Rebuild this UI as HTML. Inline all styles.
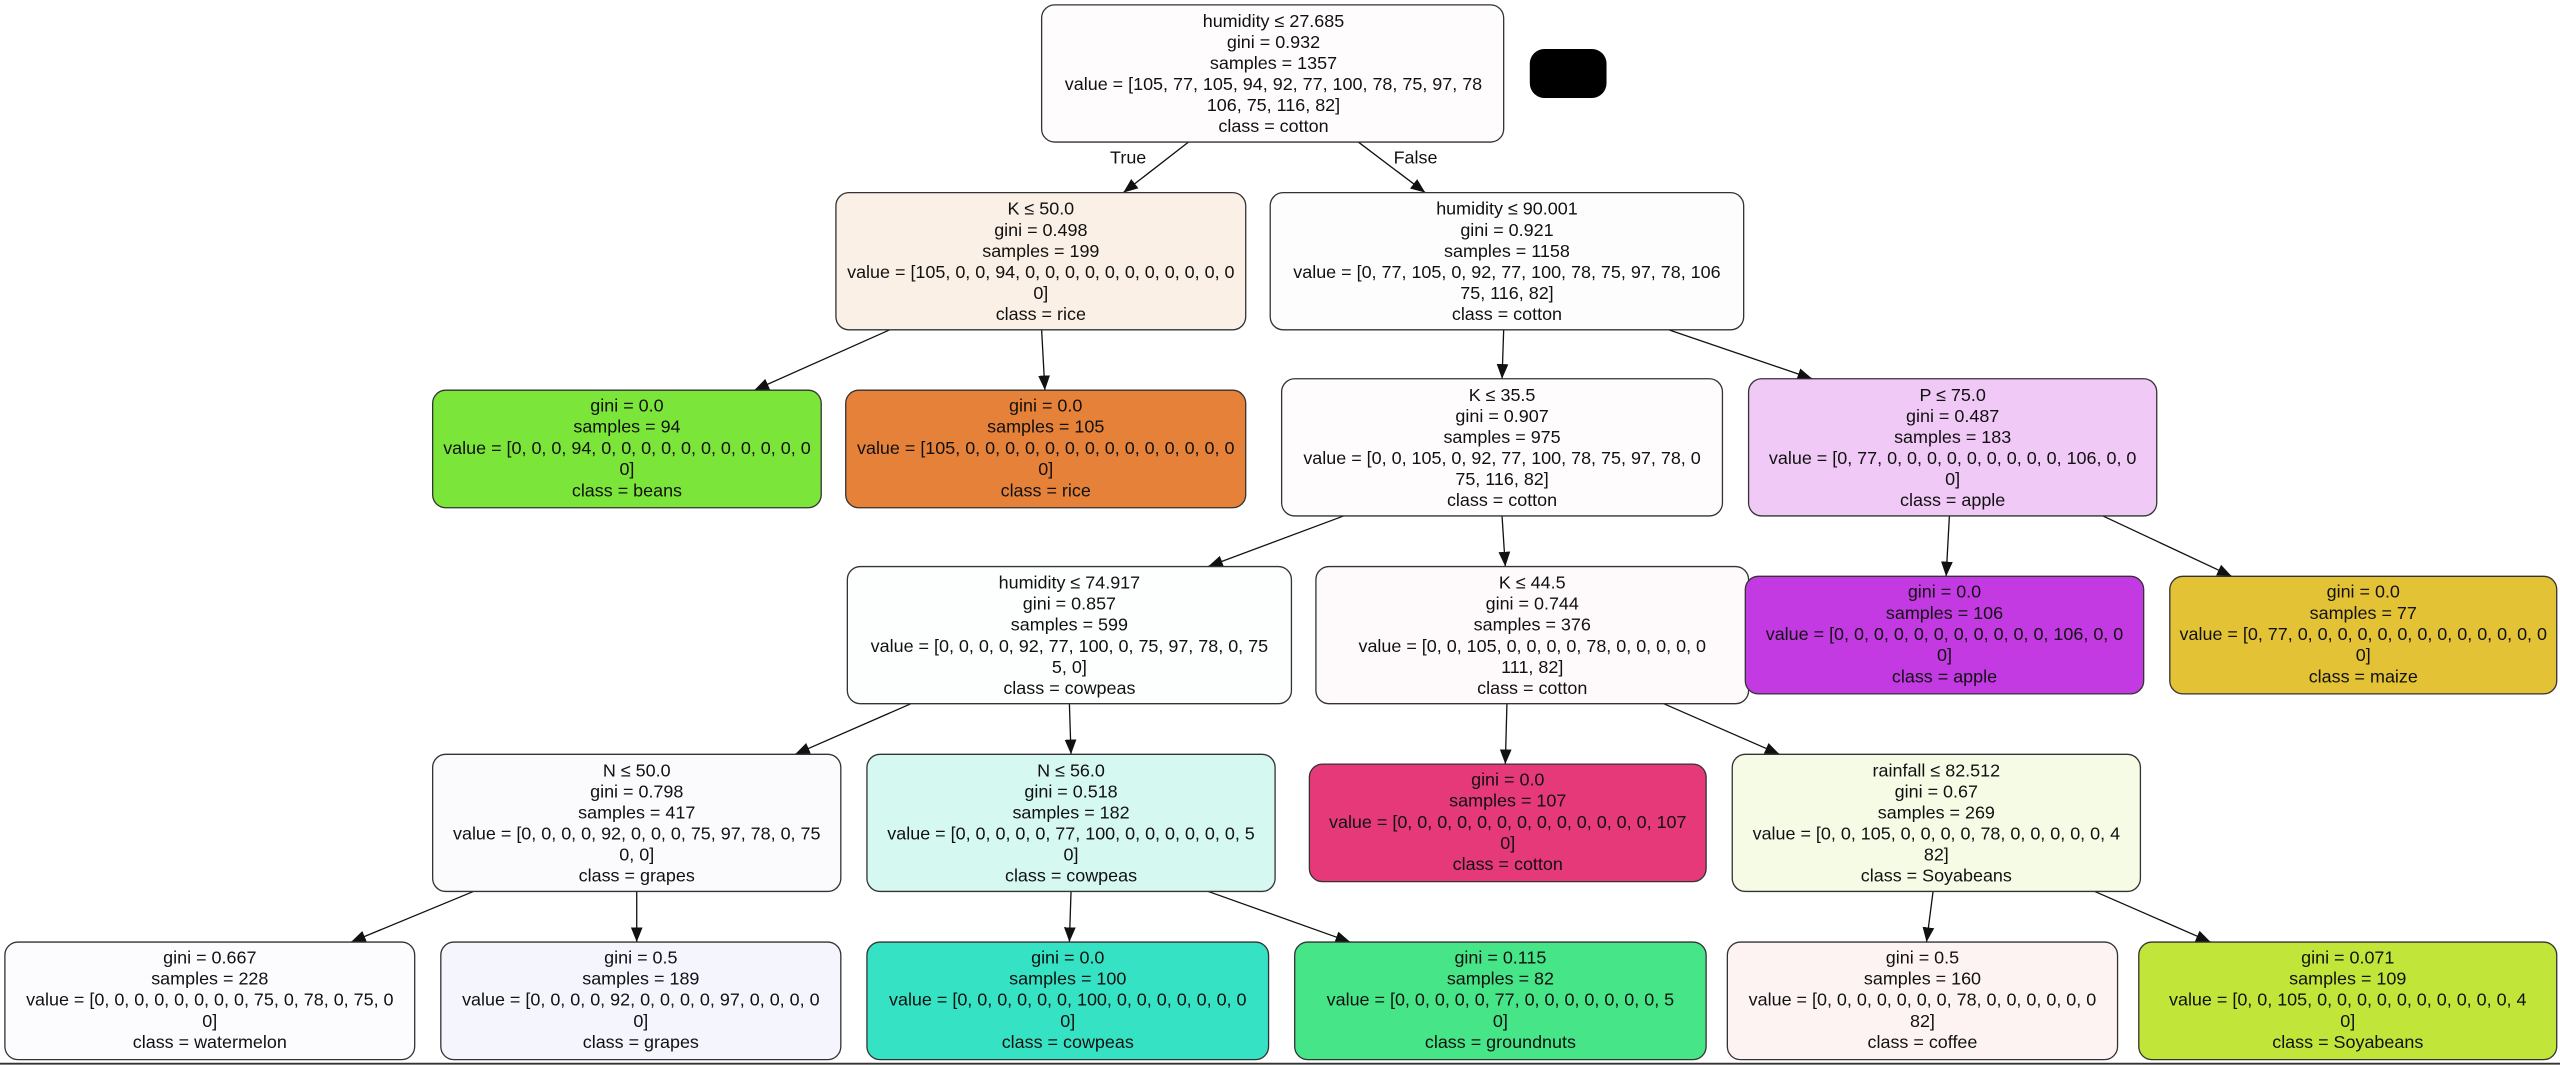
<!DOCTYPE html>
<html><head><meta charset="utf-8"><style>
html,body{margin:0;padding:0;background:#fff;}
svg{display:block;}
text{font-family:"Liberation Sans",sans-serif;font-size:11px;fill:#111;text-anchor:middle;}
.n{stroke:#333;stroke-width:0.8;}
.e{stroke:#111;stroke-width:0.8;fill:none;}
</style></head><body>
<svg width="2560" height="1065" viewBox="0 0 1568 652.3" preserveAspectRatio="none" xmlns="http://www.w3.org/2000/svg">
<defs><marker id="a" viewBox="0 0 10 10" refX="10" refY="5" markerWidth="9" markerHeight="9" markerUnits="userSpaceOnUse" orient="auto"><path d="M0,1 L10,5 L0,9 z" fill="#111"/></marker></defs>
<rect width="1568" height="652.3" fill="#fff"/>
<g class="e">
<line x1="728" y1="87" x2="688" y2="118" marker-end="url(#a)"/>
<line x1="832" y1="87" x2="873" y2="118" marker-end="url(#a)"/>
<line x1="545" y1="202" x2="462" y2="239" marker-end="url(#a)"/>
<line x1="638" y1="202" x2="640" y2="239" marker-end="url(#a)"/>
<line x1="921" y1="202" x2="920" y2="232" marker-end="url(#a)"/>
<line x1="1022" y1="202" x2="1110" y2="232" marker-end="url(#a)"/>
<line x1="823" y1="316" x2="740" y2="347" marker-end="url(#a)"/>
<line x1="920" y1="316" x2="922" y2="347" marker-end="url(#a)"/>
<line x1="1194" y1="316" x2="1192" y2="353" marker-end="url(#a)"/>
<line x1="1288" y1="316" x2="1367" y2="353" marker-end="url(#a)"/>
<line x1="558" y1="431" x2="487" y2="462" marker-end="url(#a)"/>
<line x1="655" y1="431" x2="656" y2="462" marker-end="url(#a)"/>
<line x1="923" y1="431" x2="922" y2="468" marker-end="url(#a)"/>
<line x1="1019" y1="431" x2="1090" y2="462" marker-end="url(#a)"/>
<line x1="290" y1="546" x2="215" y2="577" marker-end="url(#a)"/>
<line x1="390" y1="546" x2="390" y2="577" marker-end="url(#a)"/>
<line x1="656" y1="546" x2="655" y2="577" marker-end="url(#a)"/>
<line x1="740" y1="546" x2="827" y2="577" marker-end="url(#a)"/>
<line x1="1184" y1="546" x2="1180" y2="577" marker-end="url(#a)"/>
<line x1="1283" y1="546" x2="1354" y2="577" marker-end="url(#a)"/>
</g>
<text x="691" y="100">True</text>
<text x="867" y="100">False</text>
<rect x="937" y="30" width="47" height="30" rx="9" fill="#000"/>

<rect class="n" x="638" y="3" width="283" height="84" rx="8" fill="#fefcfd"/>
<g transform="translate(780,0)"><text y="16.5">humidity ≤ 27.685</text><text y="29.4">gini = 0.932</text><text y="42.3">samples = 1357</text><text y="55.2">value = [105, 77, 105, 94, 92, 77, 100, 78, 75, 97, 78</text><text y="68.1">106, 75, 116, 82]</text><text y="81">class = cotton</text></g>

<rect class="n" x="512" y="118" width="251" height="84" rx="8" fill="#fbf0e6"/>
<g transform="translate(637.5,0)"><text y="131.5">K ≤ 50.0</text><text y="144.4">gini = 0.498</text><text y="157.3">samples = 199</text><text y="170.2">value = [105, 0, 0, 94, 0, 0, 0, 0, 0, 0, 0, 0, 0, 0, 0</text><text y="183.1">0]</text><text y="196">class = rice</text></g>
<rect class="n" x="778" y="118" width="290" height="84" rx="8" fill="#fefdfd"/>
<g transform="translate(923,0)"><text y="131.5">humidity ≤ 90.001</text><text y="144.4">gini = 0.921</text><text y="157.3">samples = 1158</text><text y="170.2">value = [0, 77, 105, 0, 92, 77, 100, 78, 75, 97, 78, 106</text><text y="183.1">75, 116, 82]</text><text y="196">class = cotton</text></g>

<rect class="n" x="265" y="239" width="238" height="72" rx="8" fill="#7be539"/>
<g transform="translate(384,0)"><text y="252">gini = 0.0</text><text y="265">samples = 94</text><text y="278">value = [0, 0, 0, 94, 0, 0, 0, 0, 0, 0, 0, 0, 0, 0, 0</text><text y="291">0]</text><text y="304">class = beans</text></g>
<rect class="n" x="518" y="239" width="245" height="72" rx="8" fill="#e58139"/>
<g transform="translate(640.5,0)"><text y="252">gini = 0.0</text><text y="265">samples = 105</text><text y="278">value = [105, 0, 0, 0, 0, 0, 0, 0, 0, 0, 0, 0, 0, 0, 0</text><text y="291">0]</text><text y="304">class = rice</text></g>
<rect class="n" x="785" y="232" width="270" height="84" rx="8" fill="#fefcfc"/>
<g transform="translate(920,0)"><text y="245.5">K ≤ 35.5</text><text y="258.4">gini = 0.907</text><text y="271.3">samples = 975</text><text y="284.2">value = [0, 0, 105, 0, 92, 77, 100, 78, 75, 97, 78, 0</text><text y="297.1">75, 116, 82]</text><text y="310">class = cotton</text></g>
<rect class="n" x="1071" y="232" width="250" height="84" rx="8" fill="#f0c9f6"/>
<g transform="translate(1196,0)"><text y="245.5">P ≤ 75.0</text><text y="258.4">gini = 0.487</text><text y="271.3">samples = 183</text><text y="284.2">value = [0, 77, 0, 0, 0, 0, 0, 0, 0, 0, 0, 106, 0, 0</text><text y="297.1">0]</text><text y="310">class = apple</text></g>

<rect class="n" x="519" y="347" width="272" height="84" rx="8" fill="#fdfefe"/>
<g transform="translate(655,0)"><text y="360.5">humidity ≤ 74.917</text><text y="373.4">gini = 0.857</text><text y="386.3">samples = 599</text><text y="399.2">value = [0, 0, 0, 0, 92, 77, 100, 0, 75, 97, 78, 0, 75</text><text y="412.1">5, 0]</text><text y="425">class = cowpeas</text></g>
<rect class="n" x="806" y="347" width="265" height="84" rx="8" fill="#fefafb"/>
<g transform="translate(938.5,0)"><text y="360.5">K ≤ 44.5</text><text y="373.4">gini = 0.744</text><text y="386.3">samples = 376</text><text y="399.2">value = [0, 0, 105, 0, 0, 0, 0, 78, 0, 0, 0, 0, 0</text><text y="412.1">111, 82]</text><text y="425">class = cotton</text></g>
<rect class="n" x="1069" y="353" width="244" height="72" rx="8" fill="#c339e2"/>
<g transform="translate(1191,0)"><text y="366">gini = 0.0</text><text y="379">samples = 106</text><text y="392">value = [0, 0, 0, 0, 0, 0, 0, 0, 0, 0, 0, 106, 0, 0</text><text y="405">0]</text><text y="418">class = apple</text></g>
<rect class="n" x="1329" y="353" width="237" height="72" rx="8" fill="#e3c335"/>
<g transform="translate(1447.5,0)"><text y="366">gini = 0.0</text><text y="379">samples = 77</text><text y="392">value = [0, 77, 0, 0, 0, 0, 0, 0, 0, 0, 0, 0, 0, 0, 0</text><text y="405">0]</text><text y="418">class = maize</text></g>

<rect class="n" x="265" y="462" width="250" height="84" rx="8" fill="#fbfbfe"/>
<g transform="translate(390,0)"><text y="475.5">N ≤ 50.0</text><text y="488.4">gini = 0.798</text><text y="501.3">samples = 417</text><text y="514.2">value = [0, 0, 0, 0, 92, 0, 0, 0, 75, 97, 78, 0, 75</text><text y="527.1">0, 0]</text><text y="540">class = grapes</text></g>
<rect class="n" x="531" y="462" width="250" height="84" rx="8" fill="#d5f8f1"/>
<g transform="translate(656,0)"><text y="475.5">N ≤ 56.0</text><text y="488.4">gini = 0.518</text><text y="501.3">samples = 182</text><text y="514.2">value = [0, 0, 0, 0, 0, 77, 100, 0, 0, 0, 0, 0, 0, 5</text><text y="527.1">0]</text><text y="540">class = cowpeas</text></g>
<rect class="n" x="802" y="468" width="243" height="72" rx="8" fill="#e6397a"/>
<g transform="translate(923.5,0)"><text y="481">gini = 0.0</text><text y="494">samples = 107</text><text y="507">value = [0, 0, 0, 0, 0, 0, 0, 0, 0, 0, 0, 0, 0, 107</text><text y="520">0]</text><text y="533">class = cotton</text></g>
<rect class="n" x="1061" y="462" width="250" height="84" rx="8" fill="#f5fbe5"/>
<g transform="translate(1186,0)"><text y="475.5">rainfall ≤ 82.512</text><text y="488.4">gini = 0.67</text><text y="501.3">samples = 269</text><text y="514.2">value = [0, 0, 105, 0, 0, 0, 0, 78, 0, 0, 0, 0, 0, 4</text><text y="527.1">82]</text><text y="540">class = Soyabeans</text></g>

<rect class="n" x="3" y="577" width="251" height="72" rx="8" fill="#fcfbfe"/>
<g transform="translate(128.5,0)"><text y="590">gini = 0.667</text><text y="603">samples = 228</text><text y="616">value = [0, 0, 0, 0, 0, 0, 0, 0, 75, 0, 78, 0, 75, 0</text><text y="629">0]</text><text y="642">class = watermelon</text></g>
<rect class="n" x="270" y="577" width="245" height="72" rx="8" fill="#f4f5fd"/>
<g transform="translate(392.5,0)"><text y="590">gini = 0.5</text><text y="603">samples = 189</text><text y="616">value = [0, 0, 0, 0, 92, 0, 0, 0, 0, 97, 0, 0, 0, 0</text><text y="629">0]</text><text y="642">class = grapes</text></g>
<rect class="n" x="531" y="577" width="246" height="72" rx="8" fill="#36e2c4"/>
<g transform="translate(654,0)"><text y="590">gini = 0.0</text><text y="603">samples = 100</text><text y="616">value = [0, 0, 0, 0, 0, 0, 100, 0, 0, 0, 0, 0, 0, 0</text><text y="629">0]</text><text y="642">class = cowpeas</text></g>
<rect class="n" x="793" y="577" width="252" height="72" rx="8" fill="#46e587"/>
<g transform="translate(919,0)"><text y="590">gini = 0.115</text><text y="603">samples = 82</text><text y="616">value = [0, 0, 0, 0, 0, 77, 0, 0, 0, 0, 0, 0, 0, 5</text><text y="629">0]</text><text y="642">class = groundnuts</text></g>
<rect class="n" x="1058" y="577" width="239" height="72" rx="8" fill="#fdf3f2"/>
<g transform="translate(1177.5,0)"><text y="590">gini = 0.5</text><text y="603">samples = 160</text><text y="616">value = [0, 0, 0, 0, 0, 0, 0, 78, 0, 0, 0, 0, 0, 0</text><text y="629">82]</text><text y="642">class = coffee</text></g>
<rect class="n" x="1310" y="577" width="256" height="72" rx="8" fill="#c1e539"/>
<g transform="translate(1438,0)"><text y="590">gini = 0.071</text><text y="603">samples = 109</text><text y="616">value = [0, 0, 105, 0, 0, 0, 0, 0, 0, 0, 0, 0, 0, 4</text><text y="629">0]</text><text y="642">class = Soyabeans</text></g>

<line x1="0" y1="651.5" x2="1568" y2="651.5" stroke="#333" stroke-width="1.2"/>
</svg>
</body></html>
